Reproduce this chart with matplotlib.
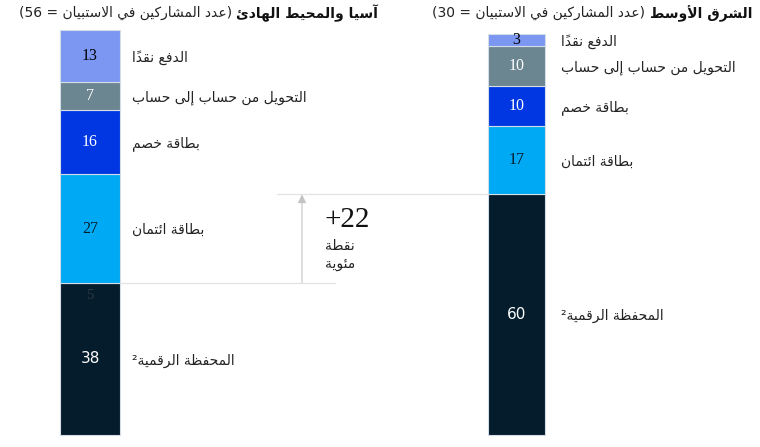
import matplotlib
matplotlib.use("Agg")
import matplotlib.pyplot as plt

# categories, top of the bar to bottom
categories = ["الدفع نقداً", "التحويل من حساب إلى حساب", "بطاقة خصم",
              "بطاقة ائتمان", "المحفظة الرقمية²"]
asia_values = [13, 7, 16, 27, 38]
me_values = [3, 10, 10, 17, 60]
asia_extra = "5"

asia_title_bold = "آسيا والمحيط الهادئ"
asia_title_rest = "(عدد المشاركين في الاستبيان = 56)"
me_title_bold = "الشرق الأوسط"
me_title_rest = "(عدد المشاركين في الاستبيان = 30)"

gap_value = "+22"
gap_unit = ["نقطة", "مئوية"]

colors = ["#7b97f1", "#6b8591", "#0037e3", "#00a9f4", "#051c2c"]
value_colors_asia = ["black", "white", "white", "#051c2c", "white"]
value_colors_me = ["black", "white", "white", "#051c2c", "white"]


# --- tiny arabic shaper (matplotlib has no complex text layout) ---
_groups = [(0x621, 1), (0x622, 2), (0x623, 2), (0x624, 2), (0x625, 2), (0x626, 4),
           (0x627, 2), (0x628, 4), (0x629, 2), (0x62A, 4), (0x62B, 4), (0x62C, 4),
           (0x62D, 4), (0x62E, 4), (0x62F, 2), (0x630, 2), (0x631, 2), (0x632, 2),
           (0x633, 4), (0x634, 4), (0x635, 4), (0x636, 4), (0x637, 4), (0x638, 4),
           (0x639, 4), (0x63A, 4), (0x641, 4), (0x642, 4), (0x643, 4), (0x644, 4),
           (0x645, 4), (0x646, 4), (0x647, 4), (0x648, 2), (0x649, 2), (0x64A, 4)]
FORMS = {}
_b = 0xFE80
for cp, n in _groups:
    FORMS[chr(cp)] = [chr(_b + i) for i in range(n)]
    _b += n
for alef, cp in zip("آأإا", [0xFEF5, 0xFEF7, 0xFEF9, 0xFEFB]):
    FORMS["ل" + alef] = [chr(cp), chr(cp + 1)]
MARKS = set(chr(c) for c in range(0x64B, 0x653))


def ar(text):
    chars = []
    i = 0
    while i < len(text):
        if text[i] == "ل" and i + 1 < len(text) and text[i + 1] in "آأإا":
            chars.append(text[i:i + 2])
            i += 2
        else:
            chars.append(text[i])
            i += 1
    out = []
    for idx, c in enumerate(chars):
        if c not in FORMS:
            out.append(c)
            continue
        j = idx - 1
        while j >= 0 and chars[j] in MARKS:
            j -= 1
        k = idx + 1
        while k < len(chars) and chars[k] in MARKS:
            k += 1
        prev_j = j >= 0 and len(FORMS.get(chars[j], [])) == 4
        next_j = k < len(chars) and len(FORMS.get(chars[k], [])) >= 2
        f = FORMS[c]
        if len(f) == 4:
            g = f[3] if (prev_j and next_j) else f[1] if prev_j else f[2] if next_j else f[0]
        elif len(f) == 2:
            g = f[1] if prev_j else f[0]
        else:
            g = f[0]
        out.append(g)
    units = []
    for g in out:
        if g in MARKS and units:
            units[-1] += g
        elif g in "0123456789" and units and all(ch in "0123456789" for ch in units[-1]):
            units[-1] += g
        else:
            units.append(g)
    mirror = {"(": ")", ")": "("}
    return "".join(mirror.get(u, u) for u in reversed(units))


fig = plt.figure(figsize=(7.6, 4.47), dpi=100)
ax = fig.add_axes([0, 0, 1, 1])
ax.set_xlim(0, 760)
ax.set_ylim(-3, 108.5)
ax.axis("off")


def draw_stack(xc, width, values, vcolors, label_x):
    bottom = 0
    tops = {}
    for i in reversed(range(len(values))):
        v = values[i]
        ax.bar(xc, v, width, bottom=bottom, color=colors[i], edgecolor="#d3dde8",
               linewidth=0.8, align="center")
        mid = bottom + v / 2
        if i == 4:
            ax.text(xc, mid, str(v), ha="center", va="center", fontsize=11,
                    color=vcolors[i], family="DejaVu Sans")
        else:
            ax.text(xc, mid, str(v), ha="center", va="center", fontsize=11.5,
                    color=vcolors[i], family="Liberation Serif")
        ax.text(label_x, mid - 0.4, ar(categories[i]), ha="left", va="center",
                fontsize=10, color="#222222")
        tops[i] = bottom + v
        bottom += v
    return tops


asia_tops = draw_stack(90, 60, asia_values, value_colors_asia, 132)
me_tops = draw_stack(516.5, 57, me_values, value_colors_me, 561)

ax.text(90, asia_tops[4] - 3.3, asia_extra, ha="center", va="center", fontsize=10.5,
        color="#2c3a46", family="Liberation Serif")

# gap annotation
ax.plot([120, 335], [asia_tops[4], asia_tops[4]], color="#e3e3e3", lw=0.9)
ax.plot([277, 488], [me_tops[4], me_tops[4]], color="#e3e3e3", lw=0.9)
ax.annotate("", xy=(302, me_tops[4]), xytext=(302, asia_tops[4]),
            arrowprops=dict(arrowstyle="-|>,head_length=0.5,head_width=0.25",
                            color="#c4c4c4", lw=0.8, shrinkA=0, shrinkB=0))
ax.text(325, 53.6, gap_value, ha="left", va="center", fontsize=21,
        family="Liberation Serif", color="#111111")
ax.text(325, 47.1, ar(gap_unit[0]), ha="left", va="center", fontsize=10, color="#222222")
ax.text(325, 42.6, ar(gap_unit[1]), ha="left", va="center", fontsize=10, color="#222222")

# titles: bold part on the right, rest to its left
renderer = fig.canvas.get_renderer()


def title(x_right, bold, rest):
    t = ax.text(x_right, 105.2, ar(bold), ha="right", va="center", fontsize=10,
                fontweight="bold", color="#111111")
    bb = t.get_window_extent(renderer)
    x0 = ax.transData.inverted().transform((bb.x0, bb.y0))[0]
    ax.text(x0 - 4, 105.2, ar(rest), ha="right", va="center", fontsize=10,
            color="#222222")


title(378, asia_title_bold, asia_title_rest)
title(752, me_title_bold, me_title_rest)

fig.savefig("out.png", dpi=100)
